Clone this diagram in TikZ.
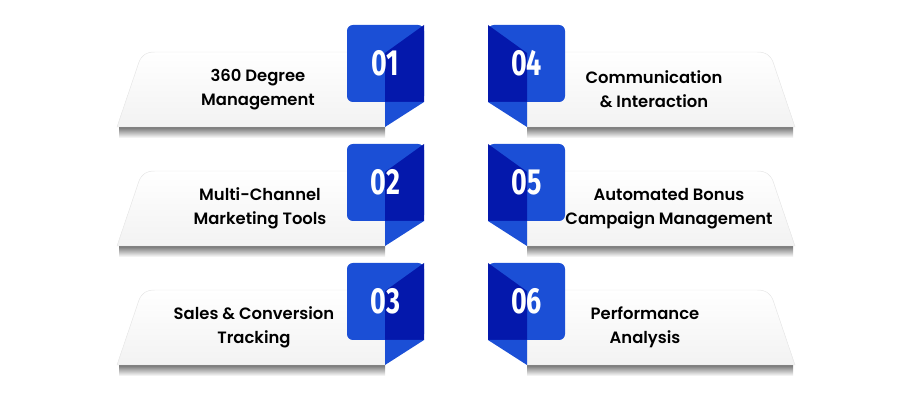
\documentclass[tikz,border=0pt]{standalone}
\usepackage{fontspec}
\setmainfont{Poppins}
\newfontfamily\labelfont{Poppins SemiBold}
\newfontfamily\numfont{Fira Sans}
\definecolor{ribblue}{RGB}{27,79,214}
\definecolor{ribdark}{RGB}{4,24,172}

\begin{document}
\begin{tikzpicture}[x=0.03cm,y=-0.03cm,
  card/.style={top color=white,bottom color=black!5,draw=black!10,line width=.4pt},
  shadow/.style={top color=black!55,bottom color=white},
  sqlight/.style={fill=ribblue,rounded corners=5pt},
  sqdark/.style={fill=ribdark},
  fold/.style={fill=ribblue},
  label/.style={font=\labelfont\fontsize{14}{20.5}\selectfont,align=center,text=black},
  num/.style={text=white,font=\numfont\bfseries\fontsize{31}{31}\selectfont}
]
\useasboundingbox (0,0) rectangle (914,400);

% row 1
\path[shadow] (119,127) rectangle (385,138);
\path[card] (385,52) -- (155,52) .. controls (146,52) and (142,55) .. (139,62) -- (117,127) -- (385,127) -- cycle;
\path[sqlight] (347,25) rectangle (424,102);
\path[sqdark] (424,25) -- (424,102) -- (385,102) -- (385,53) -- cycle;
\path[fold] (385,102) -- (424,102) -- (385,127) -- cycle;
\node[num] (n1) at (385.5,63.5) {\scalebox{.74}[1]{01}};
\node[label] (t1) at (258,89.5) {360 Degree\\Management};

\path[shadow] (527,127) rectangle (793,138);
\path[card] (527,52) -- (757,52) .. controls (766,52) and (770,55) .. (773,62) -- (795,127) -- (527,127) -- cycle;
\path[sqlight] (488,25) rectangle (565,102);
\path[sqdark] (488,25) -- (527,53) -- (527,102) -- (488,102) -- cycle;
\path[fold] (488,102) -- (527,102) -- (527,127) -- cycle;
\node[num] (n4) at (526.5,63.5) {\scalebox{.74}[1]{04}};
\node[label] (t4) at (654,89.5) {Communication\\\& Interaction};

% row 2
\begin{scope}[shift={(0,119)}]
\path[shadow] (119,127) rectangle (385,138);
\path[card] (385,52) -- (155,52) .. controls (146,52) and (142,55) .. (139,62) -- (117,127) -- (385,127) -- cycle;
\path[sqlight] (347,25) rectangle (424,102);
\path[sqdark] (424,25) -- (424,102) -- (385,102) -- (385,53) -- cycle;
\path[fold] (385,102) -- (424,102) -- (385,127) -- cycle;
\node[num] (n2) at (385.5,63.5) {\scalebox{.74}[1]{02}};
\node[label] (t2) at (260,89.5) {Multi-Channel\\Marketing Tools};

\path[shadow] (527,127) rectangle (793,138);
\path[card] (527,52) -- (757,52) .. controls (766,52) and (770,55) .. (773,62) -- (795,127) -- (527,127) -- cycle;
\path[sqlight] (488,25) rectangle (565,102);
\path[sqdark] (488,25) -- (527,53) -- (527,102) -- (488,102) -- cycle;
\path[fold] (488,102) -- (527,102) -- (527,127) -- cycle;
\node[num] (n5) at (526.5,63.5) {\scalebox{.74}[1]{05}};
\node[label] (t5) at (669,89.5) {Automated Bonus\\Campaign Management};
\end{scope}

% row 3
\begin{scope}[shift={(0,238)}]
\path[shadow] (119,127) rectangle (385,138);
\path[card] (385,52) -- (155,52) .. controls (146,52) and (142,55) .. (139,62) -- (117,127) -- (385,127) -- cycle;
\path[sqlight] (347,25) rectangle (424,102);
\path[sqdark] (424,25) -- (424,102) -- (385,102) -- (385,53) -- cycle;
\path[fold] (385,102) -- (424,102) -- (385,127) -- cycle;
\node[num] (n3) at (385.5,63.5) {\scalebox{.74}[1]{03}};
\node[label] (t3) at (254,89.5) {Sales \& Conversion\\Tracking};

\path[shadow] (527,127) rectangle (793,138);
\path[card] (527,52) -- (757,52) .. controls (766,52) and (770,55) .. (773,62) -- (795,127) -- (527,127) -- cycle;
\path[sqlight] (488,25) rectangle (565,102);
\path[sqdark] (488,25) -- (527,53) -- (527,102) -- (488,102) -- cycle;
\path[fold] (488,102) -- (527,102) -- (527,127) -- cycle;
\node[num] (n6) at (526.5,63.5) {\scalebox{.74}[1]{06}};
\node[label] (t6) at (645,89.5) {Performance\\Analysis};
\end{scope}
\end{tikzpicture}
\end{document}
